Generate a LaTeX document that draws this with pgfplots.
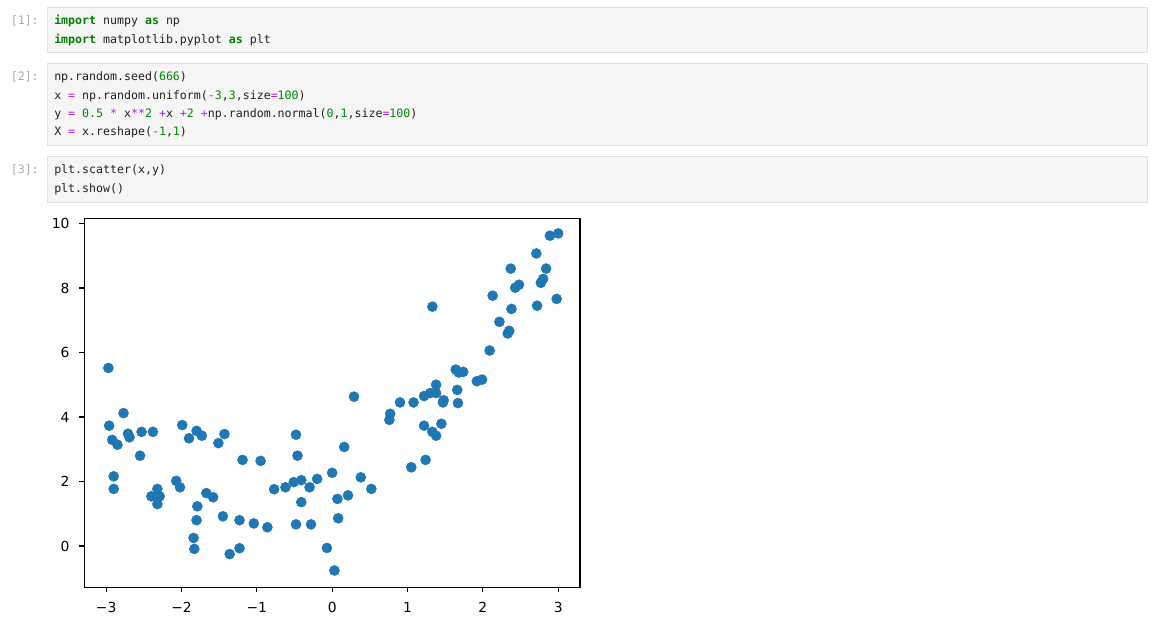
\documentclass[border=0pt]{standalone}
\usepackage{fontspec}
\setmainfont{DejaVu Sans}
\newfontfamily\codefont{DejaVu Sans Mono}
\usepackage{pgfplots}
\pgfplotsset{compat=1.18}
\definecolor{mplblue}{HTML}{1F77B4}
\definecolor{cellbg}{HTML}{F5F5F5}
\definecolor{cellborder}{HTML}{E0E0E0}
\definecolor{kwgreen}{HTML}{008000}
\definecolor{numgreen}{HTML}{008800}
\definecolor{oppurple}{HTML}{AA22FF}
\definecolor{codetext}{HTML}{212121}
\definecolor{promptgray}{HTML}{A8A8A8}
\newcommand{\kw}[1]{\textcolor{kwgreen}{\bfseries #1}}
\newcommand{\nm}[1]{\textcolor{numgreen}{#1}}
\newcommand{\op}[1]{\textcolor{oppurple}{#1}}
\newcommand{\cf}{\codefont\fontsize{8.7pt}{10pt}\selectfont}
\pgfplotstableread{
x y
-2.96 3.73
-2.77 4.12
-2.92 3.29
-2.85 3.14
-2.71 3.48
-2.69 3.37
-2.53 3.54
-2.38 3.54
-2.55 2.80
-2.90 2.16
-2.90 1.77
-2.32 1.77
-2.40 1.54
-2.29 1.54
-2.32 1.30
-1.99 3.75
-1.80 3.57
-1.90 3.34
-1.73 3.42
-1.43 3.47
-1.51 3.19
-2.07 2.02
-2.02 1.82
-1.67 1.64
-1.58 1.51
-1.79 1.23
-1.80 0.80
-1.84 0.25
-1.83 -0.09
-1.45 0.92
-1.36 -0.25
-1.23 -0.07
-1.23 0.80
-1.19 2.67
-0.95 2.64
-1.04 0.70
-0.86 0.58
-0.77 1.76
-0.62 1.82
-0.51 1.98
-0.41 2.04
-0.48 3.45
-0.46 2.80
-0.30 1.82
-0.20 2.08
-0.41 1.36
-0.48 0.67
-0.28 0.67
-0.07 -0.06
0.00 2.27
0.03 -0.76
0.07 1.46
0.08 0.86
0.21 1.57
0.16 3.07
0.38 2.13
0.52 1.77
1.05 2.44
1.24 2.67
0.76 3.91
0.77 4.10
1.22 3.73
1.45 3.79
1.33 3.54
1.38 3.42
0.29 4.63
0.90 4.45
1.08 4.45
1.22 4.65
1.30 4.74
1.38 5.00
1.38 4.74
1.48 4.52
1.47 4.45
1.66 4.84
1.67 4.43
1.64 5.47
1.68 5.38
1.74 5.40
1.92 5.11
1.99 5.16
2.09 6.06
1.33 7.42
2.13 7.76
2.22 6.95
2.33 6.59
2.35 6.67
2.38 7.35
2.37 8.60
2.43 8.01
2.48 8.10
2.71 9.07
2.72 7.45
2.84 8.60
2.77 8.16
2.80 8.28
2.89 9.62
3.00 9.69
2.98 7.66
-2.97 5.52
}\scatterdata
\begin{document}
\begin{tikzpicture}[x=0.75pt,y=0.75pt]
% background (page bounds 1153 x 623 px)
\fill[white] (0,0) rectangle (1153,623);
% code cells
\filldraw[fill=cellbg,draw=cellborder,line width=0.75pt] (47.3,615.7) rectangle (1147.3,570.7);
\filldraw[fill=cellbg,draw=cellborder,line width=0.75pt] (47.3,559.7) rectangle (1147.3,477.7);
\filldraw[fill=cellbg,draw=cellborder,line width=0.75pt] (47.3,466.7) rectangle (1147.3,420.7);
% prompts
\begin{scope}[every node/.style={inner sep=0pt,anchor=base east,text=promptgray,font=\cf}]
\node at (39,623-25) {[1]:};
\node at (39,623-81) {[2]:};
\node at (39,623-174) {[3]:};
\end{scope}
% code lines
\begin{scope}[every node/.style={inner sep=0pt,anchor=base west,text=codetext,font=\cf}]
\node at (54,623-25) {\kw{import} numpy \kw{as} np};
\node at (54,623-43.2) {\kw{import} matplotlib.pyplot \kw{as} plt};
\node at (54,623-81) {np.random.seed(\nm{666})};
\node at (54,623-99.3) {x \op{=} np.random.uniform(\op{-}\nm{3},\nm{3},size\op{=}\nm{100})};
\node at (54,623-117.6) {y \op{=} \nm{0.5} \op{*} x\op{**}\nm{2} \op{+}x \op{+}\nm{2} \op{+}np.random.normal(\nm{0},\nm{1},size\op{=}\nm{100})};
\node at (54,623-135.9) {X \op{=} x.reshape(\op{-}\nm{1},\nm{1})};
\node at (54,623-174) {plt.scatter(x,y)};
\node at (54,623-192.2) {plt.show()};
\end{scope}
% scatter plot
\begin{axis}[
  at={(63.225pt,26.775pt)}, anchor=south west,
  width=371.8pt, height=276.75pt, scale only axis,
  xmin=-3.29, xmax=3.29, ymin=-1.28, ymax=10.16,
  axis line style={line width=0.83pt},
  tick style={line width=0.83pt, black},
  tick align=outside, tick pos=left,
  major tick length=3.65pt,
  xtick={-3,-2,-1,0,1,2,3},
  xticklabels={−3,−2,−1,0,1,2,3},
  ytick={0,2,4,6,8,10},
  yticklabels={0,2,4,6,8,10},
  xticklabel style={font=\fontsize{10.4pt}{12pt}\selectfont, inner sep=0pt, anchor=north, yshift=-7.3pt},
  yticklabel style={font=\fontsize{10.4pt}{12pt}\selectfont, inner sep=0pt, anchor=east, xshift=-7.3pt},
  clip=false,
]
\addplot[only marks, color=mplblue, mark=*, mark size=3.75pt, mark options={fill=mplblue, draw=none}] table[x=x,y=y] {\scatterdata};
\end{axis}
\end{tikzpicture}
\end{document}
